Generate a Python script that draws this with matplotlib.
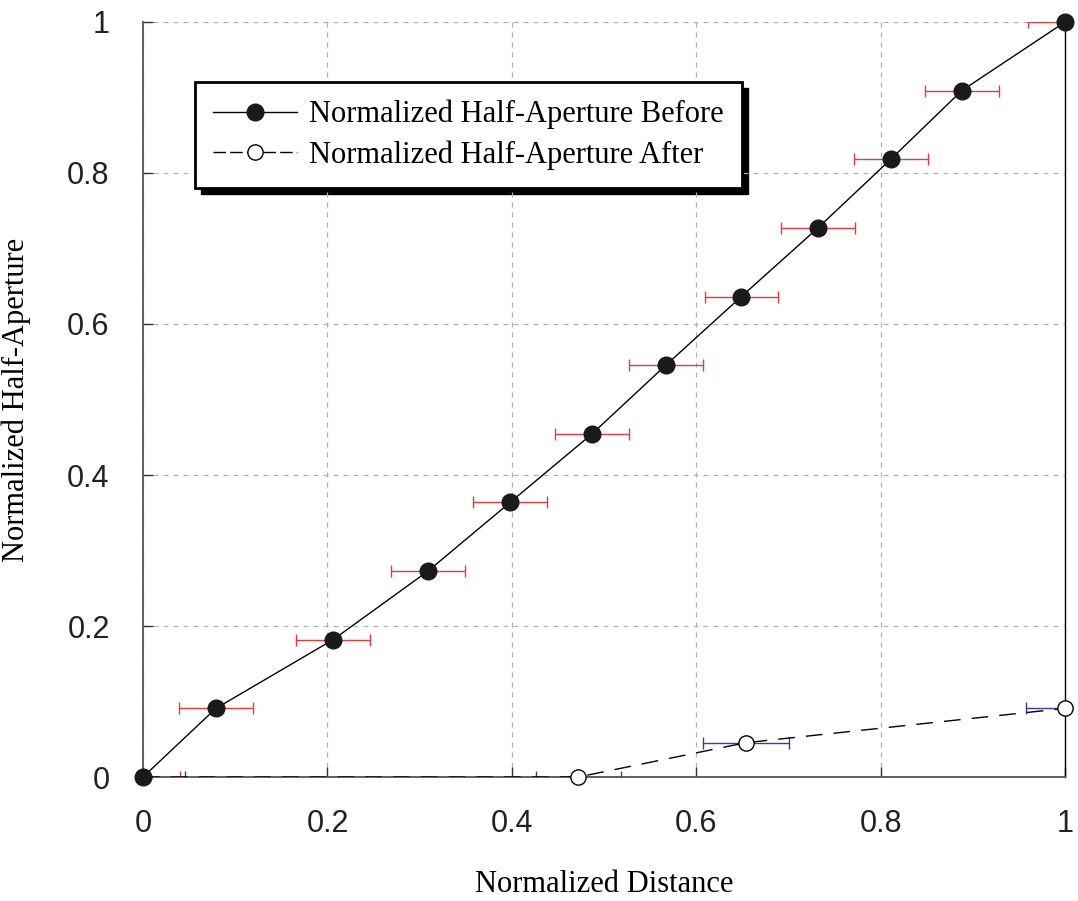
import matplotlib
matplotlib.use("Agg")
import matplotlib.pyplot as plt
from matplotlib.patches import Rectangle

before_x = [0.0, 0.079, 0.206, 0.309, 0.398, 0.487, 0.567, 0.649, 0.732, 0.811, 0.888, 1.0]
before_y = [0.0, 0.0909, 0.1818, 0.2727, 0.3636, 0.4545, 0.5455, 0.6364, 0.7273, 0.8182, 0.9091, 1.0]
before_xerr = [0.04] * len(before_x)

after_x = [0.0, 0.472, 0.654, 1.0]
after_y = [0.0, 0.0, 0.0455, 0.0909]
after_xerr = [0.045, 0.046, 0.047, 0.042]

ticks = [0, 0.2, 0.4, 0.6, 0.8, 1]
tick_labels = ["0", "0.2", "0.4", "0.6", "0.8", "1"]

sans = "Liberation Sans"
serif = "Liberation Serif"

fig = plt.figure(figsize=(10.78, 9.01), dpi=100)
ax = fig.add_axes([0.1327, 0.1376, 0.8553, 0.838])

ax.grid(True, color="#b0b0b0", linestyle=(0, (4, 4)), linewidth=0.9)
ax.set_axisbelow(True)

ax.errorbar(before_x, before_y, xerr=before_xerr, fmt="none", ecolor="#e8393a",
            elinewidth=1.0, capsize=4.5, capthick=1.0, zorder=3)
ax.errorbar(after_x, after_y, xerr=after_xerr, fmt="none", ecolor="#3a3ab0",
            elinewidth=1.0, capsize=4.5, capthick=1.0, zorder=3)

ax.plot(before_x, before_y, color="black", linewidth=1.0, zorder=4)
ax.plot(before_x, before_y, linestyle="none", marker="o", markersize=12,
        markerfacecolor="#1a1a1a", markeredgecolor="#1a1a1a", clip_on=False, zorder=5)
ax.plot(after_x, after_y, color="black", linewidth=1.0, linestyle=(0, (12, 8)), zorder=4)
ax.plot(after_x[1:], after_y[1:], linestyle="none", marker="o", markersize=11,
        markerfacecolor="white", markeredgecolor="black", markeredgewidth=1.0,
        clip_on=False, zorder=5)

# legend proxies
h1, = ax.plot([], [], color="black", linewidth=1.0, marker="o", markersize=12,
              markerfacecolor="#1a1a1a", markeredgecolor="#1a1a1a")
h2, = ax.plot([], [], color="black", linewidth=1.0, linestyle=(0, (9, 3)), marker="o",
              markersize=11, markerfacecolor="white", markeredgecolor="black")

ax.set_xlim(0, 1)
ax.set_ylim(0, 1)
ax.set_xticks(ticks)
ax.set_yticks(ticks)
ax.set_xticklabels(tick_labels, fontfamily=sans, fontsize=22, color="#222222")
ax.set_yticklabels(tick_labels, fontfamily=sans, fontsize=22, color="#222222")
ax.tick_params(direction="in", length=7, width=1.0, color="#333333")
ax.tick_params(axis="x", pad=23)
ax.tick_params(axis="y", pad=24)

for name in ("left", "bottom"):
    ax.spines[name].set_color("#555555")
    ax.spines[name].set_linewidth(1.3)
ax.spines["right"].set_color("black")
ax.spines["right"].set_linewidth(1.0)
ax.spines["top"].set_visible(False)

ax.set_xlabel("Normalized Distance", fontfamily=serif, fontsize=22, labelpad=22)
ax.set_ylabel("Normalized Half-Aperture", fontfamily=serif, fontsize=22, labelpad=26)

leg = ax.legend([h1, h2], ["Normalized Half-Aperture Before", "Normalized Half-Aperture After"],
                loc="upper left", bbox_to_anchor=(0.056, 0.921), prop={"family": serif, "size": 22},
                frameon=True, fancybox=False, framealpha=1.0, borderpad=0.6, labelspacing=0.35,
                handlelength=2.75, handletextpad=0.4, borderaxespad=0)
leg.get_frame().set_edgecolor("black")
leg.get_frame().set_linewidth(2.0)
leg.get_frame().set_facecolor("white")

# drop shadow behind the legend box
fig.canvas.draw()
bb = leg.get_window_extent()
shadow = Rectangle((bb.x0 + 6, bb.y0 - 6), bb.width, bb.height, transform=None,
                   facecolor="black", edgecolor="black", zorder=0)
fig.patches.append(shadow)
shadow.set_figure(fig)
ax.set_zorder(1)
ax.patch.set_alpha(0)

fig.savefig("out.png", dpi=100, facecolor="white")
